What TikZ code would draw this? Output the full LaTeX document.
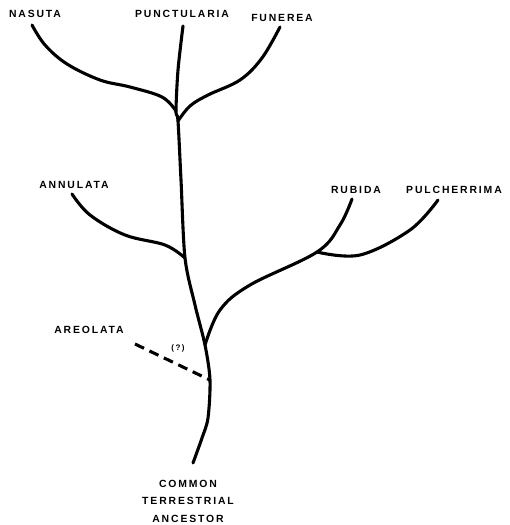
\documentclass[tikz,border=0pt]{standalone}
\usepackage{fontspec}
\newfontfamily\labfont[LetterSpace=18]{Liberation Sans}
\begin{document}
\begin{tikzpicture}[x=1pt,y=-1pt,
  br/.style={line width=3.1pt, line cap=round, line join=round},
  lab/.style={font=\labfont\bfseries\fontsize{10.4}{17.5}\selectfont, inner sep=0pt, align=center},
  qlab/.style={font=\labfont\bfseries\fontsize{8}{9}\selectfont, inner sep=0pt}]
\useasboundingbox (0,0) rectangle (509,525);
% labels
\node[lab] (nasuta) at (35,14) {NASUTA};
\node[lab] (punct) at (182,14) {PUNCTULARIA};
\node[lab] (funerea) at (282,18) {FUNEREA};
\node[lab] (annulata) at (74,185) {ANNULATA};
\node[lab] (rubida) at (356,190) {RUBIDA};
\node[lab] (pulch) at (454,190) {PULCHERRIMA};
\node[lab] (areolata) at (89,330) {AREOLATA};
\node[qlab] (q) at (178,348) {(?)};
\node[lab] (anc) at (188,501) {COMMON\\TERRESTRIAL\\ANCESTOR};
% tips and junctions
\coordinate (tipN) at (32,25);
\coordinate (tipP) at (183,26);
\coordinate (tipF) at (280,27);
\coordinate (tipA) at (72,194);
\coordinate (tipR) at (352,199);
\coordinate (tipPu) at (438,200);
\coordinate (tipAr) at (135,344);
\coordinate (jN) at (176,111);
\coordinate (jF) at (178,121);
\coordinate (jA) at (185,258);
\coordinate (jPu) at (317,252);
\coordinate (jR) at (205,345);
\coordinate (jAr) at (210,380);
\coordinate (base) at (193,463);
% trunk
\draw[br] plot[smooth, tension=0.5] coordinates {(base) (202,438) (208,418) (jAr) (jR) (195,305) (jA) (181,180) (jF) (jN) (178,70) (tipP)};
% branches
\draw[br] plot[smooth, tension=0.6] coordinates {(jN) (162,97) (130,87) (100,80) (67,64) (45,45) (tipN)};
\draw[br] plot[smooth, tension=0.6] coordinates {(jF) (190,106) (208,95) (240,80) (262,58) (tipF)};
\draw[br] plot[smooth, tension=0.6] coordinates {(tipA) (90,215) (125,235) (165,245) (jA)};
\draw[br] plot[smooth, tension=0.6] coordinates {(jR) (220,310) (250,285) (jPu) (340,225) (tipR)};
\draw[br] plot[smooth, tension=0.6] coordinates {(jPu) (360,255) (410,230) (tipPu)};
\draw[br, line cap=butt, dash pattern=on 10pt off 6pt] (tipAr) -- (jAr);
\end{tikzpicture}
\end{document}
